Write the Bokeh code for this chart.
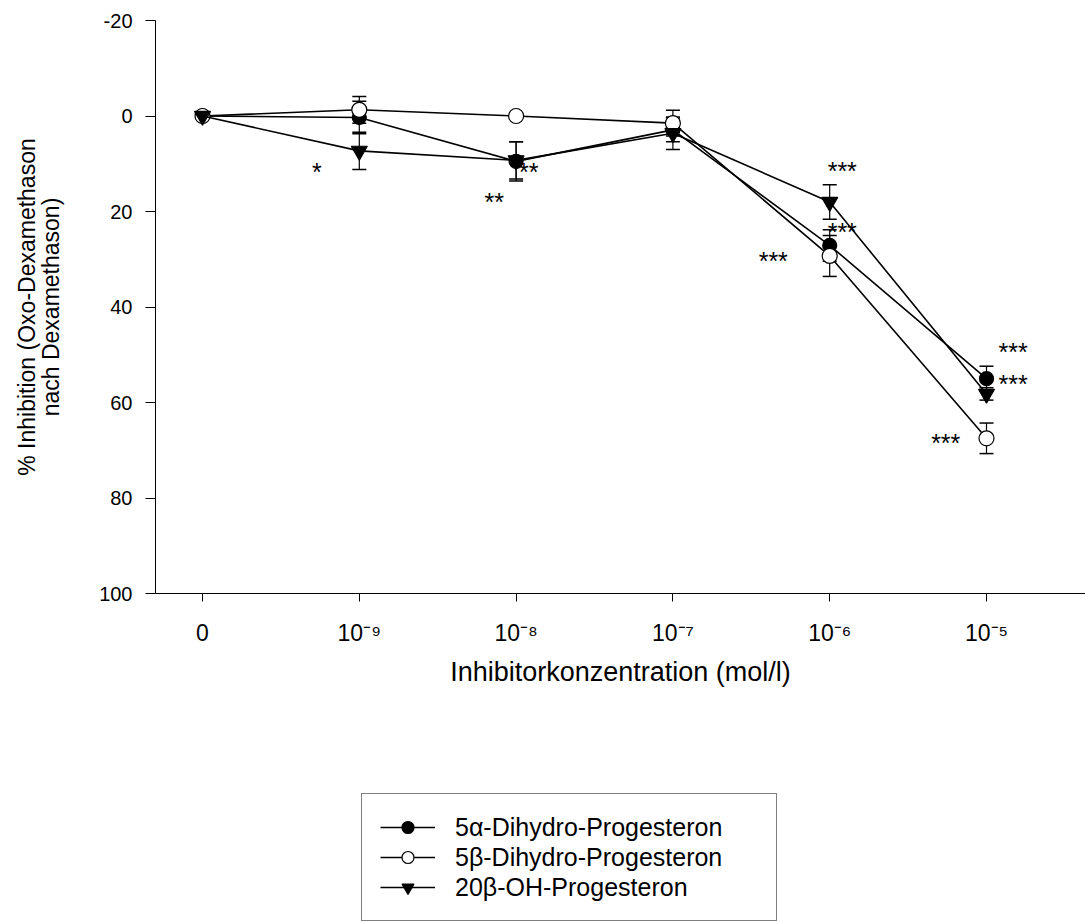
import math
from bokeh.plotting import figure
from bokeh.models import (Range1d, Whisker, ColumnDataSource, Legend, LegendItem,
                          FixedTicker, TeeHead, Label)
from bokeh.core.properties import value
from bokeh.embed import file_html
from bokeh.resources import INLINE

# ---------------- data ----------------
conc_pos = [0, 1, 2, 3, 4, 5]
conc_labels = ["0", "10\u207b\u2079", "10\u207b\u2078", "10\u207b\u2077",
               "10\u207b\u2076", "10\u207b\u2075"]

alpha_vals = [0.0, 0.3, 9.5, 2.9, 27.1, 55.0]
alpha_err = [0.0, 3.4, 4.1, 2.5, 3.3, 2.6]

beta_vals = [0.0, -1.3, 0.0, 1.5, 29.3, 67.5]
beta_err = [0.0, 2.8, 0.0, 2.7, 4.3, 3.2]

oh_vals = [0.0, 7.3, 9.3, 3.6, 18.0, 58.2]
oh_err = [0.0, 3.9, 3.9, 3.4, 3.6, 1.3]

series_names = ["5\u03b1-Dihydro-Progesteron", "5\u03b2-Dihydro-Progesteron",
                "20\u03b2-OH-Progesteron"]

star_x = [0.73, 1.86, 2.08, 4.08, 4.08, 3.64, 5.17, 5.17, 4.74]
star_y = [11.1, 17.4, 11.1, 10.9, 23.7, 29.7, 48.8, 55.5, 67.9]
star_text = ["*", "**", "**", "***", "***", "***", "***", "***", "***"]

y_ticks = [-20, 0, 20, 40, 60, 80, 100]
y_tick_labels = ["-20", "0", "20", "40", "60", "80", "100"]
y_title_lines = ["% Inhibition (Oxo-Dexamethason", "nach Dexamethason)"]
x_title = "Inhibitorkonzentration (mol/l)"

FONT = "Liberation Sans"

# ---------------- layout (pixels) ----------------
W, H = 1085, 921
TOP, AXIS_Y = 20, 593          # y = -20 at TOP, y = 100 at AXIS_Y
X0_PX, X5_PX = 202, 986        # category 0 and category 5
YAXIS_PX = 155                 # position of the y axis line
TITLE_X_PX = [26, 50]          # centres of the two y-title lines

y_lo, y_hi = -20, 100
y_per_px = (y_hi - y_lo) / (AXIS_Y - TOP)
y_range_bottom = y_hi + (H - AXIS_Y) * y_per_px
y_range_top = y_lo - TOP * y_per_px

x_per_px = 5 / (X5_PX - X0_PX)
def px_to_x(px):
    return (px - X0_PX) * x_per_px

x_start, x_end = px_to_x(0), px_to_x(W)
x_axis_at = px_to_x(YAXIS_PX)

p = figure(width=W, height=H, output_backend="svg", toolbar_location=None,
           x_range=Range1d(x_start, x_end),
           y_range=Range1d(y_range_bottom, y_range_top),
           min_border_left=0, min_border_right=0, min_border_top=0,
           min_border_bottom=0)
p.xgrid.visible = False
p.ygrid.visible = False
p.outline_line_color = None
p.background_fill_color = "white"
p.border_fill_color = "white"

# y axis (fixed at the left edge of the plotting area)
ya = p.yaxis[0]
ya.fixed_location = x_axis_at
ya.ticker = FixedTicker(ticks=y_ticks)
ya.bounds = (y_lo, y_hi)
ya.major_label_overrides = dict(zip(y_ticks, y_tick_labels))
ya.minor_tick_line_color = None
ya.major_tick_out = 10
ya.major_tick_in = 0
ya.major_label_standoff = 13
ya.major_label_text_font = FONT
ya.major_label_text_font_size = "20px"
ya.major_label_text_color = "black"
ya.axis_line_color = "black"
ya.major_tick_line_color = "black"

# y axis title, two lines
for line, px in zip(y_title_lines, TITLE_X_PX):
    p.add_layout(Label(x=px_to_x(px), y=(y_lo + y_hi) / 2, text=line,
                       angle=math.pi / 2, text_align="center",
                       text_baseline="middle", text_font=FONT,
                       text_font_size="23px", text_color="black"))

# x axis (fixed at y = 100)
xa = p.xaxis[0]
xa.fixed_location = y_hi
xa.bounds = (x_axis_at, x_end)
xa.ticker = FixedTicker(ticks=conc_pos)
xa.major_label_overrides = dict(zip(conc_pos, conc_labels))
xa.minor_tick_line_color = None
xa.major_tick_out = 8
xa.major_tick_in = 0
xa.major_label_standoff = 18
xa.major_label_text_font = FONT
xa.major_label_text_font_size = "23px"
xa.major_label_text_color = "black"
xa.axis_line_color = "black"
xa.major_tick_line_color = "black"
xa.axis_label = x_title
xa.axis_label_text_font = FONT
xa.axis_label_text_font_size = "27px"
xa.axis_label_text_font_style = "normal"
xa.axis_label_text_color = "black"
xa.axis_label_standoff = 8

series = [
    (alpha_vals, alpha_err, "circle", 14, "black", 0),
    (beta_vals, beta_err, "circle", 15, "white", 1),
    (oh_vals, oh_err, "inverted_triangle", 16, "black", 2),
]

items = []
for vals, errs, marker, size, fill, idx in series:
    src = ColumnDataSource(dict(x=conc_pos, y=vals,
                                lo=[v - e for v, e in zip(vals, errs)],
                                hi=[v + e for v, e in zip(vals, errs)]))
    w = Whisker(base="x", lower="lo", upper="hi", source=src,
                line_color="black", line_width=1.2,
                lower_head=TeeHead(size=14, line_color="black", line_width=1.5),
                upper_head=TeeHead(size=14, line_color="black", line_width=1.5))
    p.add_layout(w)
    lr = p.line("x", "y", source=src, line_color="black", line_width=1.6)
    sr = p.scatter("x", "y", source=src, marker=marker, size=size,
                   fill_color=fill, line_color="black", line_width=1.2)
    items.append(LegendItem(label=series_names[idx], renderers=[lr, sr]))

# significance stars
p.text(x=star_x, y=star_y, text=star_text, text_align="center",
       text_baseline="middle", y_offset=3, text_font=value(FONT),
       text_font_size="25px", text_color="black")

legend = Legend(items=items, location=(361, 0), orientation="vertical",
                label_text_font=FONT, label_text_font_size="25px",
                label_text_color="black", glyph_width=55, glyph_height=30,
                label_height=30, label_width=303, label_standoff=20,
                spacing=0, padding=18, margin=0,
                border_line_color="black", border_line_width=1,
                background_fill_color="white", background_fill_alpha=1)
p.add_layout(legend)

open("out.html", "w").write(file_html(p, INLINE))
